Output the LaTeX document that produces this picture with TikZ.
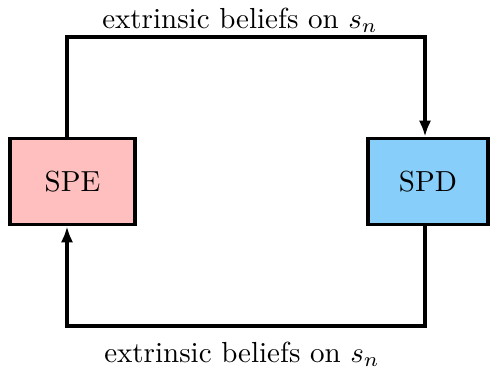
\documentclass[tikz,border=0pt]{standalone}
\usetikzlibrary{arrows.meta}
\definecolor{spepink}{RGB}{255,191,191}
\definecolor{spdblue}{RGB}{135,206,250}
\begin{document}
\begin{tikzpicture}[x=0.3448pt,y=-0.3448pt,
  box/.style={draw,line width=1.3pt,minimum height=29.6pt,inner sep=0pt},
  link/.style={line width=1.2pt,-{Latex[length=5.5pt,width=4.2pt]}},
  lbl/.style={inner sep=0pt}]
\useasboundingbox (0,0) rectangle (490,367);
\node[box,fill=spepink,minimum width=43pt] (spe) at (72.5,181.5) {SPE};
\node[box,fill=spdblue,minimum width=41.3pt] (spd) at (428,181.5) {SPD};
\coordinate (tl) at (67,37);
\coordinate (tr) at (425,37);
\coordinate (bl) at (67,326);
\coordinate (br) at (425,326);
\draw[link] (spe.north -| tl) -- (tl) -- (tr) -- (spd.north -| tr);
\draw[link] (spd.south -| br) -- (br) -- (bl) -- (spe.south -| bl);
\node[lbl] (top) at (240,20) {extrinsic beliefs on $s_n$};
\node[lbl] (bot) at (242,354) {extrinsic beliefs on $s_n$};
\end{tikzpicture}
\end{document}
